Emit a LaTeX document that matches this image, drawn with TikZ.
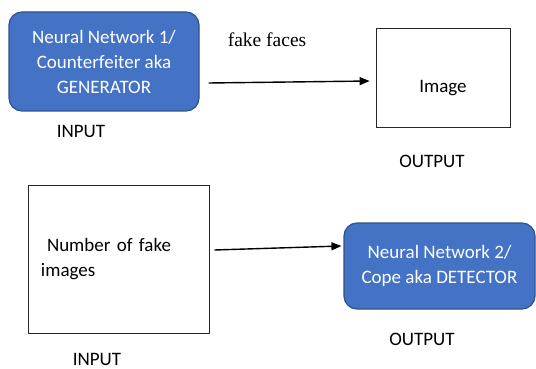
\documentclass[tikz,border=0pt]{standalone}
\usepackage{fontspec}
\setmainfont{Carlito}
\newfontfamily\timesfont{Liberation Serif}
\usepackage{tikz}
\usetikzlibrary{arrows.meta,positioning,calc}
\definecolor{netblue}{HTML}{4472C4}
\definecolor{netedge}{HTML}{2F528F}

\begin{document}
\begin{tikzpicture}[x=1pt, y=-1pt,
    font=\fontsize{19}{25}\selectfont,
    netbox/.style={draw=netedge, fill=netblue, line width=1.2pt, rounded corners=13pt,
        text=white, align=center, minimum width=190pt, minimum height=99pt},
    plainbox/.style={draw=black!85, line width=0.8pt},
    arr/.style={-{Triangle[length=10pt,width=8pt]}, line width=1.4pt}]
    \useasboundingbox (0,0) rectangle (536,369);

    % generator and its output
    \node[netbox] (gen) at (104,61.5) {Neural Network 1/\\Counterfeiter aka\\GENERATOR};
    \node (in1) at (81,131) {INPUT};
    \node[plainbox, minimum width=134pt, minimum height=99pt] (img) at (443,77.5) {};
    \node (imgtxt) at ([yshift=-10.5pt]img.center) {Image};
    \node (out1) at (432,161) {OUTPUT};
    \node[font=\timesfont\fontsize{19.5}{22}\selectfont] (fake) at (267,40) {fake faces};
    \draw[arr] ([xshift=9pt,yshift=-21.5pt]gen.east) -- ([xshift=-6pt,yshift=-3.5pt]img.west);

    % detector and its input
    \node[plainbox, align=left, text width=155pt, inner xsep=13pt, minimum height=148pt] (num) at (118.5,259)
        {\hspace*{6pt}Number of fake\\images};
    \node (in2) at (97,359) {INPUT};
    \node[netbox, minimum width=191pt, minimum height=86pt] (det) at (439.5,266) {Neural Network 2/\\Cope aka DETECTOR};
    \node (out2) at (422,339) {OUTPUT};
    \draw[arr] ([xshift=5pt,yshift=9pt]num.east) -- ([xshift=-2pt,yshift=20pt]det.west);
\end{tikzpicture}
\end{document}
